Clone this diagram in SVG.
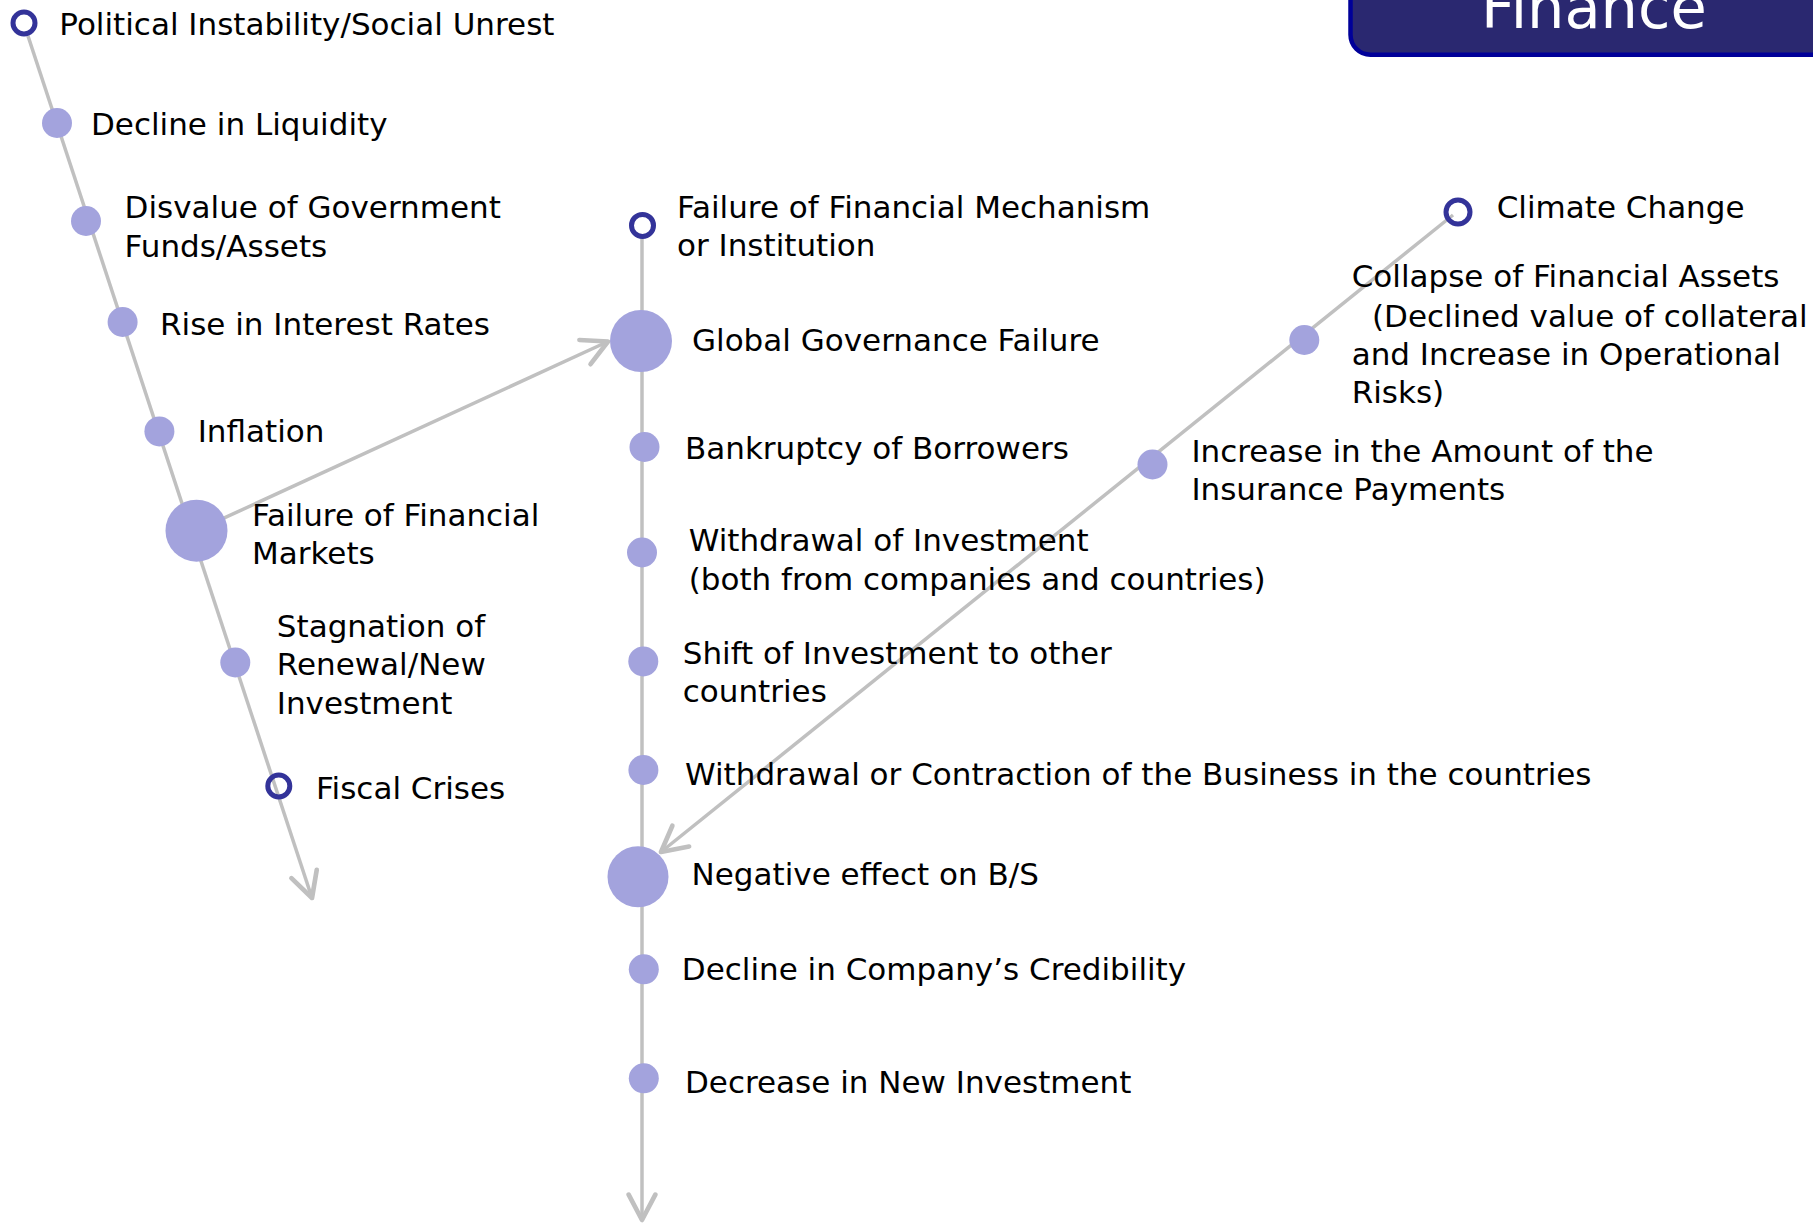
<svg xmlns="http://www.w3.org/2000/svg" width="1813" height="1223" viewBox="0 0 1813 1223">
<style>
.t{font-family:"DejaVu Sans","Verdana",sans-serif;font-size:31px;fill:#000}
.c{fill:#a3a3dd}
.r{fill:none;stroke:#333399;stroke-width:5}
.l{fill:none;stroke:#c0c0c0;stroke-width:3.5}
</style>
<defs>
<marker id="ah" markerUnits="userSpaceOnUse" markerWidth="40" markerHeight="40" refX="0" refY="0" viewBox="-25 -15 30 30" orient="auto" overflow="visible">
<path d="M-19,-10 L0,0 L-19,10" fill="none" stroke="#c0c0c0" stroke-width="3.5" stroke-linecap="round" stroke-linejoin="round"/>
</marker>
</defs>
<rect width="1813" height="1223" fill="#fff"/>
<g id="connectors">
<line class="l" x1="28" y1="36" x2="312" y2="898" marker-end="url(#ah)"/>
<line class="l" x1="196.5" y1="530.7" x2="608" y2="341.5" marker-end="url(#ah)"/>
<line class="l" x1="642" y1="238" x2="642" y2="1220" marker-end="url(#ah)"/>
<line class="l" x1="1453" y1="215" x2="661" y2="852" marker-end="url(#ah)"/>
</g>
<g id="title">
<rect x="1350.5" y="-40" width="500" height="94.7" rx="20" fill="#2a2870" stroke="#000099" stroke-width="4.5"/>
<text x="1481" y="28.3" style="font-family:'DejaVu Sans',Verdana,sans-serif;font-size:59px;fill:#fff">Finance</text>
</g>
<g id="n-political"><circle class="r" cx="24" cy="23" r="11"/><text class="t" x="59.3" y="35">Political Instability/Social Unrest</text></g>
<g id="n-liquidity"><circle class="c" cx="57" cy="123" r="15"/><text class="t" x="91" y="135">Decline in Liquidity</text></g>
<g id="n-disvalue"><circle class="c" cx="86" cy="221" r="15"/><text class="t" x="124.6" y="218.3">Disvalue of Government<tspan x="124.6" y="256.7">Funds/Assets</tspan></text></g>
<g id="n-interest"><circle class="c" cx="122.6" cy="322" r="15"/><text class="t" x="160" y="335">Rise in Interest Rates</text></g>
<g id="n-inflation"><circle class="c" cx="159.4" cy="431.4" r="15"/><text class="t" x="197.7" y="442">Inflation</text></g>
<g id="n-markets"><circle class="c" cx="196.5" cy="530.7" r="31"/><text class="t" x="252" y="526">Failure of Financial<tspan x="252" y="564.3">Markets</tspan></text></g>
<g id="n-stagnation"><circle class="c" cx="235.3" cy="662.5" r="15"/><text class="t" x="276.8" y="636.8">Stagnation of<tspan x="276.8" y="675">Renewal/New</tspan><tspan x="276.8" y="713.6">Investment</tspan></text></g>
<g id="n-fiscal"><circle class="r" cx="278.8" cy="786" r="11"/><text class="t" x="316" y="798.6">Fiscal Crises</text></g>
<g id="n-mechanism"><circle class="r" cx="642.5" cy="225.4" r="11"/><text class="t" x="677" y="217.5">Failure of Financial Mechanism<tspan x="677" y="255.7">or Institution</tspan></text></g>
<g id="n-governance"><circle class="c" cx="641" cy="341" r="31"/><text class="t" x="692" y="350.7">Global Governance Failure</text></g>
<g id="n-bankruptcy"><circle class="c" cx="644.5" cy="447" r="15"/><text class="t" x="685" y="458.6">Bankruptcy of Borrowers</text></g>
<g id="n-withdrawal"><circle class="c" cx="642" cy="552.5" r="15"/><text class="t" x="688.7" y="551.4">Withdrawal of Investment<tspan x="688.7" y="589.6">(both from companies and countries)</tspan></text></g>
<g id="n-shift"><circle class="c" cx="643.3" cy="661.4" r="15"/><text class="t" x="682.8" y="664">Shift of Investment to other<tspan x="682.8" y="702">countries</tspan></text></g>
<g id="n-contraction"><circle class="c" cx="643.4" cy="770" r="15"/><text class="t" x="685" y="785">Withdrawal or Contraction of the Business in the countries</text></g>
<g id="n-negative"><circle class="c" cx="638" cy="876.7" r="30.5"/><text class="t" x="691.6" y="885">Negative effect on B/S</text></g>
<g id="n-credibility"><circle class="c" cx="643.8" cy="969.3" r="15"/><text class="t" x="681.8" y="980">Decline in Company’s Credibility</text></g>
<g id="n-newinvest"><circle class="c" cx="643.8" cy="1078.3" r="15"/><text class="t" x="685" y="1092.7">Decrease in New Investment</text></g>
<g id="n-climate"><circle class="r" cx="1458" cy="212" r="12"/><text class="t" x="1496.7" y="218.3">Climate Change</text></g>
<g id="n-collapse"><circle class="c" cx="1304.3" cy="340" r="15"/><text class="t" x="1351.7" y="287.3">Collapse of Financial Assets<tspan x="1372" y="326.7">(Declined value of collateral</tspan><tspan x="1351.7" y="365">and Increase in Operational</tspan><tspan x="1351.7" y="403.3">Risks)</tspan></text></g>
<g id="n-insurance"><circle class="c" cx="1152.5" cy="464.5" r="15"/><text class="t" x="1191.4" y="461.7">Increase in the Amount of the<tspan x="1191.4" y="500">Insurance Payments</tspan></text></g>
</svg>
